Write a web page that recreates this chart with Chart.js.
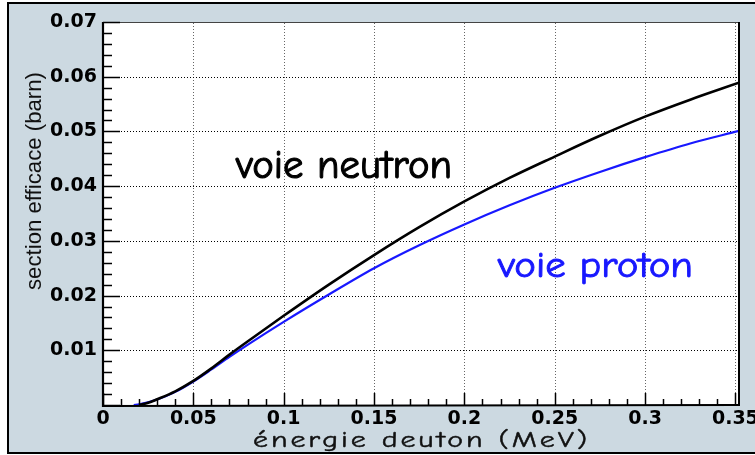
<!DOCTYPE html>
<html><head><meta charset="utf-8">
<script src="https://cdn.jsdelivr.net/npm/chart.js@4.4.1/dist/chart.umd.min.js"></script>
<style>html,body{margin:0;padding:0;background:#fff;overflow:hidden}canvas{display:block}</style>
</head><body>
<canvas id="c" width="755" height="455"></canvas>
<script>
// ---- data ----
const energyNeutron = [0.020, 0.025, 0.030, 0.040, 0.050, 0.060, 0.070, 0.080, 0.100, 0.125, 0.150, 0.175, 0.200, 0.225, 0.250, 0.275, 0.300, 0.325, 0.352];
const sigmaNeutron  = [0.0000, 0.0004, 0.00105, 0.0025, 0.0044, 0.0067, 0.0092, 0.0116, 0.0163, 0.0220, 0.0274, 0.0325, 0.0372, 0.0415, 0.0454, 0.0492, 0.0527, 0.0558, 0.0589];
const energyProton  = [0.017, 0.020, 0.030, 0.040, 0.050, 0.060, 0.070, 0.080, 0.100, 0.125, 0.150, 0.175, 0.200, 0.225, 0.250, 0.275, 0.300, 0.325, 0.352];
const sigmaProton   = [0.0000, 0.0001, 0.0010, 0.0024, 0.0043, 0.0065, 0.0088, 0.0110, 0.0152, 0.0202, 0.0250, 0.0292, 0.0330, 0.0365, 0.0397, 0.0426, 0.0453, 0.0478, 0.0501];
const xTickValues = [0, 0.05, 0.10, 0.15, 0.20, 0.25, 0.30, 0.35];
const yTickValues = [0.01, 0.02, 0.03, 0.04, 0.05, 0.06, 0.07];
const xRange = [0, 0.352];
const yRange = [0, 0.07];
const xMinorStep = 0.01, yMinorStep = 0.002;
const xTitle = 'énergie deuton (MeV)';
const yTitle = 'section efficace (barn)';
const neutronLabel = 'voie neutron';
const protonLabel = 'voie proton';

const BLUE = '#1818ff';
const BG = '#ccd9e1';
const TICK_FONT = "'DejaVu Sans', Verdana, sans-serif";
const COMIC = "'Comic Sans MS','Comic Neue','DejaVu Sans',sans-serif";
const NARROW = "'Liberation Sans Narrow','Arial Narrow','Liberation Sans',sans-serif";

function toPts(xs, ys) { return xs.map((x, i) => ({x: x, y: ys[i]})); }
function fmt(v) { return String(+(+v).toFixed(2)); }

function xHeightRatio(ctx, family, weight) {
  ctx.font = `${weight} 100px ${family}`;
  const m = ctx.measureText('x');
  return (m.actualBoundingBoxAscent || 52) / 100;
}
// draw text with given x-height, fitted to a width (left anchored at x, baseline y)
function fitText(ctx, text, family, weight, xh, x, y, width, color, maxScale, strokeW) {
  const size = xh / xHeightRatio(ctx, family, weight);
  ctx.save();
  ctx.font = `${weight} ${size}px ${family}`;
  ctx.fillStyle = color;
  ctx.strokeStyle = color;
  ctx.textAlign = 'left';
  ctx.textBaseline = 'alphabetic';
  let w0 = ctx.measureText(text).width;
  let sx = width / w0;
  if (maxScale && sx > maxScale && 'letterSpacing' in ctx) {
    sx = maxScale;
    const extra = (width / sx - w0) / (text.length - 1);
    ctx.letterSpacing = extra + 'px';
  }
  ctx.translate(x, y);
  ctx.scale(sx, 1);
  ctx.fillText(text, 0, 0);
  if (strokeW) { ctx.lineWidth = strokeW / sx; ctx.lineJoin = 'round'; ctx.strokeText(text, 0, 0); }
  ctx.restore();
}

const rootStyle = {
  id: 'rootStyle',
  beforeDraw(chart) {
    const ctx = chart.ctx, a = chart.chartArea;
    ctx.save();
    ctx.fillStyle = '#fff';
    ctx.fillRect(0, 0, chart.width, chart.height);
    ctx.fillStyle = BG;
    ctx.fillRect(8, 3, chart.width + 10, 450);
    ctx.strokeStyle = '#000';
    ctx.lineWidth = 2;
    ctx.strokeRect(8, 3, chart.width + 10, 450);
    ctx.fillStyle = '#fff';
    ctx.fillRect(a.left, a.top, a.right - a.left, a.bottom - a.top);
    ctx.restore();
  },
  beforeDatasetsDraw(chart) {
    const ctx = chart.ctx, a = chart.chartArea;
    const xs = chart.scales.x, ys = chart.scales.y;
    ctx.save();
    ctx.lineWidth = 1;
    ctx.setLineDash([1, 2]);
    ctx.strokeStyle = '#666';
    xTickValues.forEach(v => {
      if (v === 0) return;
      const px = Math.round(xs.getPixelForValue(v)) + 0.5;
      ctx.beginPath(); ctx.moveTo(px, a.bottom); ctx.lineTo(px, a.top); ctx.stroke();
    });
    ctx.strokeStyle = '#000';
    yTickValues.forEach(v => {
      const py = Math.round(ys.getPixelForValue(v)) + 0.5;
      ctx.beginPath(); ctx.moveTo(a.left, py); ctx.lineTo(a.right, py); ctx.stroke();
    });
    ctx.restore();
  },
  afterDatasetsDraw(chart) {
    const ctx = chart.ctx, a = chart.chartArea;
    const xs = chart.scales.x, ys = chart.scales.y;
    ctx.save();
    ctx.setLineDash([]);
    ctx.lineWidth = 1;
    ctx.strokeStyle = '#444';
    ctx.beginPath(); ctx.moveTo(a.left, a.top + 0.5); ctx.lineTo(a.right, a.top + 0.5); ctx.stroke();
    ctx.strokeStyle = '#000';
    ctx.lineWidth = 2;
    ctx.beginPath(); ctx.moveTo(a.right, a.top); ctx.lineTo(a.right, a.bottom); ctx.stroke();
    ctx.lineWidth = 2.2;
    ctx.beginPath(); ctx.moveTo(a.left, a.top); ctx.lineTo(a.left, a.bottom + 1); ctx.lineTo(a.right + 1, a.bottom); ctx.stroke();
    ctx.lineWidth = 1.5;
    const nx = Math.round((xRange[1] - xRange[0]) / xMinorStep);
    for (let i = 0; i <= nx; i++) {
      const v = xRange[0] + i * xMinorStep;
      const major = (i % 5 === 0);
      const px = Math.round(xs.getPixelForValue(v)) + 0.5;
      ctx.beginPath(); ctx.moveTo(px, a.bottom); ctx.lineTo(px, a.bottom - (major ? 12 : 6)); ctx.stroke();
    }
    const ny = Math.round((yRange[1] - yRange[0]) / yMinorStep);
    for (let i = 0; i <= ny; i++) {
      const v = yRange[0] + i * yMinorStep;
      const major = (i % 5 === 0);
      const py = Math.round(ys.getPixelForValue(v)) + 0.5;
      ctx.beginPath(); ctx.moveTo(a.left, py); ctx.lineTo(a.left + (major ? 17 : 9), py); ctx.stroke();
    }
    ctx.restore();

    // annotations
    fitText(ctx, neutronLabel, COMIC, 'normal', 20, 236, 178, 216, '#000', 0, 1.1);
    fitText(ctx, protonLabel, COMIC, 'normal', 17.5, 498, 277, 195, BLUE, 0, 1.0);
    // axis titles
    fitText(ctx, xTitle, COMIC, 'normal', 10.5, 253, 447, 334, '#111', 1.4, 0.6);
    ctx.save();
    ctx.translate(41, 290);
    ctx.rotate(-Math.PI / 2);
    fitText(ctx, yTitle, NARROW, 'normal', 11.5, 0, 0, 218, '#111');
    ctx.restore();
  }
};

new Chart(document.getElementById('c'), {
  type: 'scatter',
  data: {
    datasets: [
      { label: neutronLabel, data: toPts(energyNeutron, sigmaNeutron), showLine: true, borderColor: '#000', borderWidth: 2.6, pointRadius: 0, cubicInterpolationMode: 'monotone', fill: false },
      { label: protonLabel, data: toPts(energyProton, sigmaProton), showLine: true, borderColor: BLUE, borderWidth: 2.2, pointRadius: 0, cubicInterpolationMode: 'monotone', fill: false }
    ]
  },
  options: {
    responsive: false,
    animation: false,
    devicePixelRatio: 1,
    layout: { padding: { left: 0, right: 16, top: 22, bottom: 0 } },
    plugins: { legend: { display: false }, tooltip: { enabled: false } },
    scales: {
      x: {
        type: 'linear', min: xRange[0], max: xRange[1],
        grid: { display: false, drawTicks: false }, border: { display: false },
        afterBuildTicks: s => { s.ticks = xTickValues.map(v => ({ value: v })); },
        afterFit: s => { s.height = 50; s.paddingLeft = 0; s.paddingRight = 0; },
        ticks: { callback: v => fmt(v), font: { family: TICK_FONT, weight: 'bold', size: 19 }, color: '#000', padding: 3, maxRotation: 0, autoSkip: false }
      },
      y: {
        type: 'linear', min: yRange[0], max: yRange[1],
        grid: { display: false, drawTicks: false }, border: { display: false },
        afterBuildTicks: s => { s.ticks = yTickValues.map(v => ({ value: v })); },
        afterFit: s => { s.width = 103; s.paddingTop = 0; s.paddingBottom = 0; },
        ticks: { callback: v => fmt(v), font: { family: TICK_FONT, weight: 'bold', size: 19 }, color: '#000', padding: 6, autoSkip: false }
      }
    }
  },
  plugins: [rootStyle]
});
</script>
</body></html>
